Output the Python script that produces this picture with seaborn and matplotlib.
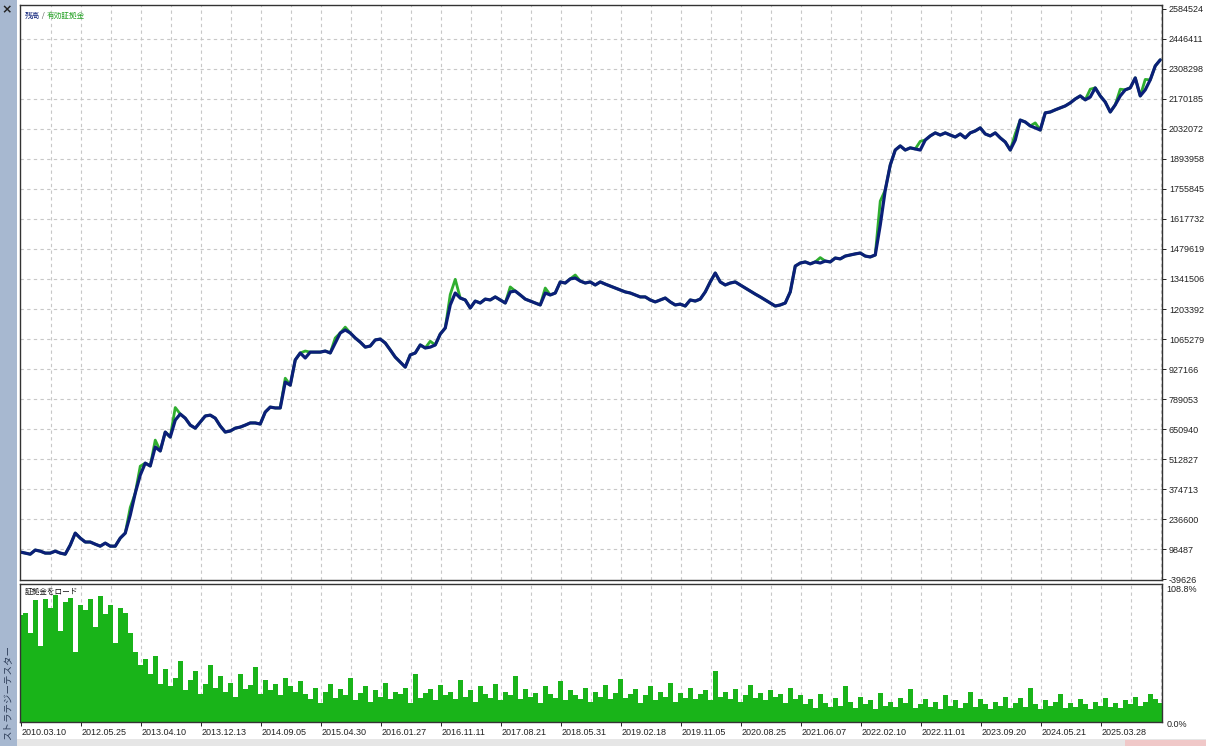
import numpy as np
import pandas as pd
import matplotlib
matplotlib.use("Agg")
import matplotlib.pyplot as plt
import seaborn as sns
from matplotlib.patches import Rectangle

# ---------------- data ----------------
# balance, in thousands, one sample per equal step of trade index
balance_k = [
    85, 80, 75, 94, 89, 80, 80, 89, 80, 75, 117, 172, 149, 131, 131, 121, 112, 126, 112, 112,
    149, 172, 255, 356, 439, 494, 481, 568, 550, 637, 614, 692, 720, 701, 669, 655, 683, 711, 715, 701,
    665, 637, 642, 655, 660, 669, 679, 679, 674, 729, 752, 748, 748, 867, 853, 969, 1001, 978, 1005, 1005,
    1005, 1010, 1001, 1047, 1093, 1107, 1093, 1070, 1051, 1028, 1033, 1061, 1065, 1047, 1015, 982, 959, 936, 992, 1001,
    1038, 1024, 1028, 1038, 1088, 1116, 1222, 1277, 1254, 1245, 1208, 1240, 1231, 1249, 1245, 1259, 1245, 1231, 1282, 1286,
    1268, 1249, 1240, 1231, 1222, 1277, 1268, 1277, 1328, 1323, 1342, 1346, 1332, 1323, 1328, 1314, 1328, 1318, 1309, 1300,
    1291, 1282, 1277, 1268, 1259, 1259, 1245, 1236, 1245, 1254, 1236, 1222, 1226, 1217, 1245, 1240, 1249, 1282, 1328, 1369,
    1328, 1314, 1323, 1328, 1314, 1300, 1286, 1272, 1259, 1245, 1231, 1217, 1222, 1231, 1282, 1401, 1415, 1420, 1411, 1420,
    1415, 1424, 1420, 1438, 1434, 1447, 1452, 1457, 1461, 1447, 1443, 1452, 1590, 1751, 1866, 1935, 1954, 1935, 1945, 1940,
    1935, 1981, 2000, 2014, 2004, 2014, 2004, 1995, 2009, 1991, 2014, 2023, 2037, 2009, 2000, 2014, 1991, 1972, 1935, 1981,
    2073, 2064, 2046, 2037, 2027, 2106, 2110, 2120, 2129, 2138, 2152, 2170, 2184, 2166, 2179, 2221, 2184, 2156, 2110, 2143,
    2184, 2212, 2221, 2267, 2184, 2212, 2258, 2322, 2350,
]
# equity peaks above balance (sample index -> equity, thousands)
equity_peak_idx = [22, 24, 27, 31, 53, 57, 63, 65, 82, 86, 87, 98, 105, 111, 160, 172, 180, 199, 203, 214, 220, 225]
equity_peak_k   = [290, 480, 600, 750, 885, 1010, 1070, 1120, 1055, 1270, 1340, 1305, 1300, 1360, 1440, 1700, 1975, 2010, 2060, 2215, 2215, 2260]

# margin load, percent, same index steps
margin_pct = [
    84, 86, 70, 96, 60, 97, 90, 100, 72, 95, 98, 55, 92, 88, 97, 75, 99, 85, 92, 62, 90, 86, 70,
    55, 45, 50, 38, 52, 30, 42, 28, 35, 48, 25, 33, 40, 22, 30, 45, 27, 36, 24, 31, 20, 38, 26, 29, 43, 22, 33, 25, 30, 21, 35, 28, 24, 32,
    22, 18, 27, 15, 24, 30, 19, 26, 21, 35, 17, 23, 28, 16, 25, 20, 31, 18, 24, 22,
    27, 15, 38, 19, 23, 26, 17, 29, 21, 24, 18, 33, 20, 25, 16, 28, 22, 19, 30, 17,
    24, 21, 36, 18, 26, 20, 23, 15, 28, 22, 19, 32, 17, 25, 21, 18, 27, 16, 24, 20,
    29, 18, 23, 34, 19, 22, 26, 15, 21, 28, 17, 24, 20, 31, 16, 23, 19, 27, 18, 22,
    25, 17, 40, 20, 24, 18, 26, 16, 21, 29, 19, 23, 17, 25, 20, 22, 15, 27, 18, 21,
    14, 18, 11, 22, 15, 12, 19, 13, 28, 16, 11, 20, 14, 17, 10, 23, 13, 16, 12, 19,
    15, 26, 11, 14, 18, 12, 16, 10, 21, 13, 17, 11, 15, 24, 12, 18, 14, 10, 16, 13,
    20, 11, 15, 19, 12, 27, 14, 10, 17, 13, 16, 22, 11, 15, 12, 18, 14, 10, 16, 13,
    19, 12, 15, 11, 17, 14, 20, 13, 16, 22, 18, 15,
]

date_labels = ["2010.03.10", "2012.05.25", "2013.04.10", "2013.12.13", "2014.09.05",
               "2015.04.30", "2016.01.27", "2016.11.11", "2017.08.21", "2018.05.31",
               "2019.02.18", "2019.11.05", "2020.08.25", "2021.06.07", "2022.02.10",
               "2022.11.01", "2023.09.20", "2024.05.21", "2025.03.28"]
y_tick_values = [-39626, 98487, 236600, 374713, 512827, 650940, 789053, 927166, 1065279,
                 1203392, 1341506, 1479619, 1617732, 1755845, 1893958, 2032072, 2170185,
                 2308298, 2446411, 2584524]
margin_max_label = "108.8%"
margin_min_label = "0.0%"

# ---------------- build frame ----------------
n = len(balance_k)
idx = np.arange(n)
balance = np.array(balance_k, dtype=float) * 1000
equity = balance.copy()
for i, v in zip(equity_peak_idx, equity_peak_k):
    equity[i] = v * 1000
df = pd.DataFrame({"trade": idx, "balance": balance, "equity": equity,
                   "margin": np.array(margin_pct, dtype=float)})

# ---------------- style ----------------
sns.set_style("white")
plt.rcParams["font.family"] = ["Liberation Sans", "Noto Sans CJK JP", "DejaVu Sans"]
CJK = ["Noto Sans CJK JP", "DejaVu Sans"]

W, H = 1206, 746
fig = plt.figure(figsize=(W / 100, H / 100), dpi=100)
fig.patch.set_facecolor("white")

def ax_rect(l, t, r, b):
    return [l / W, 1 - b / H, (r - l) / W, (b - t) / H]

ax1 = fig.add_axes(ax_rect(20, 5, 1162, 580))
ax2 = fig.add_axes(ax_rect(20, 584, 1162, 722))

navy = "#0b1f78"
green = "#2fae2f"
bar_green = "#19b419"
grid_kw = dict(color="#c8c8c8", linestyle=(0, (3, 3)), linewidth=0.8)

# x scale: sample index; ticks every 12 samples, grid every 6
xmin, xmax = -0.05, 228.35
tick_pos = [0.2 + 12 * k for k in range(len(date_labels))]
grid_pos = [0.2 + 6 * k for k in range(1, 39)]

# ---- top panel ----
sns.lineplot(data=df, x="trade", y="equity", ax=ax1, color=green, linewidth=2.0,
             estimator=None, sort=False)
sns.lineplot(data=df, x="trade", y="balance", ax=ax1, color=navy, linewidth=2.3,
             estimator=None, sort=False)
ax1.set_xlim(xmin, xmax)
ystep = (y_tick_values[-1] - y_tick_values[0]) / (len(y_tick_values) - 1)
ax1.set_ylim(y_tick_values[0] - 0.03 * ystep, y_tick_values[-1] + 0.13 * ystep)
ax1.yaxis.tick_right()
ax1.set_yticks(y_tick_values)
ax1.set_yticklabels([str(v) for v in y_tick_values])
ax1.tick_params(axis="y", which="major", direction="out", length=3, width=0.7,
                labelsize=6.5, pad=2, colors="#222222", right=True, left=False)
ax1.set_xticks([])
for yv in y_tick_values[1:-1]:
    ax1.axhline(yv, zorder=0, **grid_kw)
for xv in grid_pos:
    ax1.axvline(xv, zorder=0, **grid_kw)
ax1.set_xlabel("")
ax1.set_ylabel("")
for s in ax1.spines.values():
    s.set_color("#333333")
    s.set_linewidth(1.0)

t1 = ax1.text(0.004, 0.988, "残高", transform=ax1.transAxes, fontsize=5.5, color=navy,
              ha="left", va="top", family=CJK)
t2 = ax1.annotate(" / ", xy=(1, 0), xycoords=t1, xytext=(0, 0), textcoords="offset points",
                  fontsize=5.5, color="#555555", ha="left", va="bottom", family=CJK)
ax1.annotate("有効証拠金", xy=(1, 0), xycoords=t2, xytext=(0, 0), textcoords="offset points",
             fontsize=5.5, color="#22a022", ha="left", va="bottom", family=CJK)

# ---- bottom panel ----
sns.barplot(data=df, x="trade", y="margin", ax=ax2, color=bar_green, width=1.0,
            native_scale=True, linewidth=0, saturation=1, errorbar=None)
ax2.set_xlim(xmin, xmax)
ax2.set_ylim(0, 108.8)
for xv in grid_pos:
    ax2.axvline(xv, zorder=0, **grid_kw)
ax2.set_yticks([])
ax2.set_xticks(tick_pos)
ax2.set_xticklabels(date_labels, ha="left")
ax2.tick_params(axis="x", direction="out", length=3, width=0.7, labelsize=6.5, pad=1,
                colors="#222222", bottom=True)
ax2.set_xlabel("")
ax2.set_ylabel("")
for s in ax2.spines.values():
    s.set_color("#333333")
    s.set_linewidth(1.0)
ax2.text(1.004, 0.96, margin_max_label, transform=ax2.transAxes, fontsize=6.5,
         color="#222222", ha="left", va="center")
ax2.text(1.004, -0.015, margin_min_label, transform=ax2.transAxes, fontsize=6.5,
         color="#222222", ha="left", va="center")
ax2.text(0.004, 0.97, "証拠金をロード", transform=ax2.transAxes, fontsize=5.5,
         color="#111111", ha="left", va="top", family=CJK)

# ---- window chrome ----
fig.patches.append(Rectangle((0, 0), 17 / W, 1, transform=fig.transFigure,
                             facecolor="#a7b8d0", edgecolor="none", zorder=-1))
fig.text(7 / W, 1 - 10 / H, "×", fontsize=9, fontweight="bold", color="#222222",
         ha="center", va="center", family=["DejaVu Sans"])
fig.text(8 / W, 1 - 692 / H, "ストラテジーテスター", rotation=90, fontsize=6.8,
         color="#2a3a55", ha="center", va="center", family=CJK)
fig.patches.append(Rectangle((17 / W, 0), 1 - 17 / W, 7 / H, transform=fig.transFigure,
                             facecolor="#e6e6e6", edgecolor="none", zorder=-1))
fig.patches.append(Rectangle((1125 / W, 0), 81 / W, 6 / H, transform=fig.transFigure,
                             facecolor="#f0c8c8", edgecolor="none", zorder=-1))

fig.savefig("out.png", dpi=100)
